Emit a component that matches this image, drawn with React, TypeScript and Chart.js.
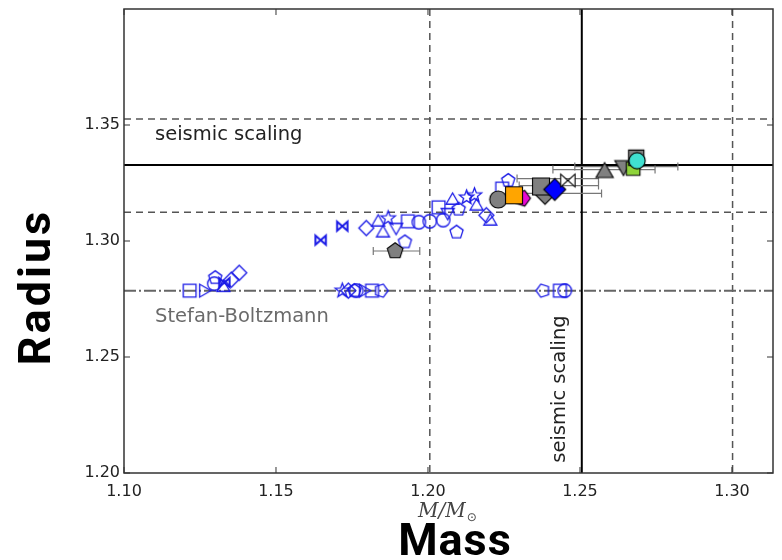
import React, { useEffect, useRef } from 'react';
import { Chart, registerables } from 'chart.js';
Chart.register(...registerables);

// axis ranges and ticks
const xTicks = [1.10, 1.15, 1.20, 1.25, 1.30];
const yTicks = [1.20, 1.25, 1.30, 1.35];
const xRange = [1.10, 1.3135];
const yRange = [1.20, 1.40];

// reference lines
const seismicMass = 1.2506;
const seismicRadius = 1.3328;
const massBounds = [1.2006, 1.3002];
const radiusBounds = [1.3124, 1.3526];
const sbRadius = 1.2786;

// blue open markers
const blueMass = [
  1.1216, 1.1261, 1.1297, 1.1300, 1.1327, 1.1330, 1.1353, 1.1379,
  1.1718, 1.1738, 1.1758, 1.1764, 1.1787, 1.1816, 1.1846,
  1.2378, 1.2434, 1.2450,
  1.1647, 1.1718, 1.1797, 1.1852, 1.1836, 1.1869, 1.1934, 1.1924, 1.1970, 1.2006, 1.2035, 1.2094,
  1.2192, 1.2205, 1.2081, 1.2153, 1.2127, 1.2101, 1.2244, 1.2264, 1.2065, 1.1895, 1.2160, 1.2050,
];
const blueRadius = [
  1.2786, 1.2786, 1.2816, 1.2842, 1.2799, 1.2821, 1.2833, 1.2863,
  1.2786, 1.2786, 1.2786, 1.2786, 1.2786, 1.2786, 1.2786,
  1.2786, 1.2786, 1.2786,
  1.3004, 1.3064, 1.3056, 1.3034, 1.3081, 1.3098, 1.3085, 1.2996, 1.3081, 1.3085, 1.3145, 1.3038,
  1.3111, 1.3085, 1.3175, 1.3197, 1.3188, 1.3137, 1.3226, 1.3261, 1.3124, 1.3060, 1.3150, 1.3090,
];
const blueShape = [
  's', '>', 'o', 'p', '^', 'b', 'D', 'D',
  '*', 'D', 'p', 'o', '>', 's', 'pr',
  'pl', 's', 'o',
  'b', 'b', 'D', '^', '^', '*', 's', 'p', 'o', 'o', 's', 'p',
  'D', '^', '^', '*', '*', 'p', 's', 'p', 'v', 'v', '^', 'o',
];

// filled markers
const fillMass = [1.1892, 1.2231, 1.2310, 1.2283, 1.2385, 1.2372, 1.2417, 1.2460, 1.2581, 1.2643, 1.2675, 1.2685, 1.2688];
const fillRadius = [1.2957, 1.3179, 1.3184, 1.3197, 1.3201, 1.3235, 1.3222, 1.3261, 1.3295, 1.3325, 1.3312, 1.3359, 1.3346];
const fillShape = ['p', 'o', 'pr', 's', 'D', 's', 'D', 'b', '^', 'v', 's', 's', 'o'];
const fillColor = ['#808080', '#808080', '#e60ad2', '#ffa500', '#808080', '#808080', '#0000ff', '#ffffff', '#808080', '#808080', '#8fd43a', '#808080', '#40e0d0'];
const fillSize = [18, 19, 18, 20, 20, 20, 22, 18, 20, 20, 16, 18, 18];

// horizontal error bars
const errRadius = [1.2957, 1.3308, 1.3321, 1.3269, 1.3239, 1.3205];
const errLo = [1.1820, 1.2411, 1.2483, 1.2293, 1.2300, 1.2310];
const errHi = [1.1973, 1.2747, 1.2822, 1.2561, 1.2561, 1.2571];

function makeMarker(shape: string, size: number, fill: string | null, stroke: string, lw: number) {
  const pad = Math.ceil(lw) + 2;
  const S = Math.ceil(size + pad * 2);
  const c = document.createElement('canvas');
  c.width = S;
  c.height = S;
  const ctx = c.getContext('2d') as CanvasRenderingContext2D;
  const cx = S / 2, cy = S / 2, r = size / 2;
  const poly = (n: number, start: number, rad: number) => {
    for (let k = 0; k < n; k++) {
      const a = ((start + (k * 360) / n) * Math.PI) / 180;
      const px = cx + rad * Math.cos(a), py = cy + rad * Math.sin(a);
      if (k === 0) ctx.moveTo(px, py); else ctx.lineTo(px, py);
    }
    ctx.closePath();
  };
  ctx.beginPath();
  switch (shape) {
    case 'o': ctx.arc(cx, cy, r * 0.9, 0, Math.PI * 2); break;
    case 's': { const h = r * 0.85; ctx.rect(cx - h, cy - h, 2 * h, 2 * h); break; }
    case 'D': poly(4, -90, r); break;
    case '^': poly(3, -90, r); break;
    case 'v': poly(3, 90, r); break;
    case '>': poly(3, 0, r); break;
    case '<': poly(3, 180, r); break;
    case 'p': poly(5, -90, r * 0.92); break;
    case 'pr': poly(5, 0, r * 0.92); break;
    case 'pl': poly(5, 180, r * 0.92); break;
    case '*': {
      for (let k = 0; k < 10; k++) {
        const a = ((-90 + k * 36) * Math.PI) / 180;
        const rr = k % 2 === 0 ? r : r * 0.42;
        const px = cx + rr * Math.cos(a), py = cy + rr * Math.sin(a);
        if (k === 0) ctx.moveTo(px, py); else ctx.lineTo(px, py);
      }
      ctx.closePath();
      break;
    }
    case 'b': {
      const w = r * 0.8, h = r * 0.7;
      ctx.moveTo(cx - w, cy - h); ctx.lineTo(cx, cy); ctx.lineTo(cx - w, cy + h); ctx.closePath();
      ctx.moveTo(cx + w, cy - h); ctx.lineTo(cx, cy); ctx.lineTo(cx + w, cy + h); ctx.closePath();
      break;
    }
  }
  if (fill) { ctx.fillStyle = fill; ctx.fill(); }
  ctx.lineWidth = lw;
  ctx.lineJoin = 'miter';
  ctx.strokeStyle = stroke;
  ctx.stroke();
  return c;
}

const decorPlugin = {
  id: 'decor',
  beforeDatasetsDraw(chart: any) {
    const { ctx, chartArea: a, scales } = chart;
    const xs = scales.x, ys = scales.y;
    ctx.save();
    ctx.beginPath();
    ctx.rect(a.left, a.top, a.right - a.left, a.bottom - a.top);
    ctx.clip();
    const hline = (v: number) => { const y = ys.getPixelForValue(v); ctx.beginPath(); ctx.moveTo(a.left, y); ctx.lineTo(a.right, y); ctx.stroke(); };
    const vline = (v: number) => { const x = xs.getPixelForValue(v); ctx.beginPath(); ctx.moveTo(x, a.top); ctx.lineTo(x, a.bottom); ctx.stroke(); };
    ctx.strokeStyle = '#555';
    ctx.lineWidth = 1.5;
    ctx.setLineDash([7, 5]);
    massBounds.forEach(vline);
    radiusBounds.forEach(hline);
    ctx.strokeStyle = '#666';
    ctx.lineWidth = 2;
    ctx.setLineDash([12, 3, 2, 3]);
    hline(sbRadius);
    ctx.setLineDash([]);
    ctx.strokeStyle = '#000';
    ctx.lineWidth = 2;
    vline(seismicMass);
    hline(seismicRadius);
    ctx.strokeStyle = '#777';
    ctx.lineWidth = 1.2;
    errRadius.forEach((rv, i) => {
      const y = ys.getPixelForValue(rv);
      const x0 = xs.getPixelForValue(errLo[i]);
      const x1 = xs.getPixelForValue(errHi[i]);
      ctx.beginPath();
      ctx.moveTo(x0, y); ctx.lineTo(x1, y);
      ctx.moveTo(x0, y - 4); ctx.lineTo(x0, y + 4);
      ctx.moveTo(x1, y - 4); ctx.lineTo(x1, y + 4);
      ctx.stroke();
    });
    ctx.restore();
  },
  afterDraw(chart: any) {
    const { ctx, chartArea: a, scales } = chart;
    const xs = scales.x, ys = scales.y;
    ctx.save();
    ctx.strokeStyle = '#333';
    ctx.lineWidth = 1.5;
    ctx.strokeRect(a.left, a.top, a.right - a.left, a.bottom - a.top);
    ctx.lineWidth = 1;
    ctx.beginPath();
    xTicks.forEach((v) => {
      const x = xs.getPixelForValue(v);
      ctx.moveTo(x, a.bottom); ctx.lineTo(x, a.bottom - 6);
      ctx.moveTo(x, a.top); ctx.lineTo(x, a.top + 6);
    });
    yTicks.forEach((v) => {
      const y = ys.getPixelForValue(v);
      ctx.moveTo(a.left, y); ctx.lineTo(a.left + 6, y);
      ctx.moveTo(a.right, y); ctx.lineTo(a.right - 6, y);
    });
    ctx.stroke();

    ctx.fillStyle = '#222';
    ctx.font = '19.5px "DejaVu Sans"';
    ctx.textAlign = 'left';
    ctx.textBaseline = 'alphabetic';
    ctx.fillText('seismic scaling', 155, 140);
    ctx.fillStyle = '#6a6a6a';
    ctx.fillText('Stefan-Boltzmann', 155, 322);
    ctx.save();
    ctx.fillStyle = '#222';
    ctx.translate(565, 389);
    ctx.rotate(-Math.PI / 2);
    ctx.textAlign = 'center';
    ctx.fillText('seismic scaling', 0, 0);
    ctx.restore();

    ctx.fillStyle = '#444';
    ctx.font = 'italic 20px "DejaVu Serif"';
    ctx.textAlign = 'left';
    ctx.fillText('M/M', 418, 517);
    const w = ctx.measureText('M/M').width;
    ctx.font = '12px "DejaVu Sans"';
    ctx.fillText('\u2299', 418 + w + 1, 521);

    ctx.fillStyle = '#000';
    ctx.font = 'bold 45px Roboto';
    (ctx as any).letterSpacing = '1px';
    ctx.textAlign = 'center';
    ctx.fillText('Mass', 455, 555);
    ctx.save();
    (ctx as any).letterSpacing = '3px';
    ctx.translate(50, 287);
    ctx.rotate(-Math.PI / 2);
    ctx.fillText('Radius', 0, 0);
    ctx.restore();
    ctx.restore();
  },
};

const noPad = (s: any) => { s.paddingTop = 0; s.paddingBottom = 0; s.paddingLeft = 0; s.paddingRight = 0; };

export default function App() {
  const ref = useRef<HTMLCanvasElement>(null);
  useEffect(() => {
    if (!ref.current) return;
    const blueMarkers = blueShape.map((s) => makeMarker(s, s === 'b' ? 13 : 15, null, '#1a1ae6', s === 'b' ? 2 : 1.3));
    const fillMarkers = fillShape.map((s, i) => makeMarker(s, fillSize[i], fillColor[i], '#000', 1.1));
    const chart = new Chart(ref.current, {
      type: 'scatter',
      data: {
        datasets: [
          {
            label: 'filled',
            data: fillMass.map((x, i) => ({ x, y: fillRadius[i] })),
            pointStyle: fillMarkers as any,
            pointRadius: 8,
            order: 0,
          },
          {
            label: 'open',
            data: blueMass.map((x, i) => ({ x, y: blueRadius[i] })),
            pointStyle: blueMarkers as any,
            pointRadius: 7,
            order: 1,
          },
        ],
      },
      options: {
        animation: false,
        responsive: false,
        devicePixelRatio: 1,
        layout: { padding: { top: 7, right: 4, left: 0, bottom: 0 } },
        plugins: { legend: { display: false }, tooltip: { enabled: false } },
        scales: {
          x: {
            type: 'linear',
            min: xRange[0],
            max: xRange[1],
            grid: { display: false, drawTicks: false },
            border: { display: false },
            ticks: {
              padding: 9,
              color: '#222',
              font: { family: 'DejaVu Sans', size: 16 },
              callback: (v: any) => Number(v).toFixed(2),
            },
            afterBuildTicks: (s: any) => { s.ticks = xTicks.map((v) => ({ value: v })); },
            afterFit: (s: any) => { s.height = 87; noPad(s); },
          },
          y: {
            type: 'linear',
            min: yRange[0],
            max: yRange[1],
            grid: { display: false, drawTicks: false },
            border: { display: false },
            ticks: {
              padding: 4,
              color: '#222',
              font: { family: 'DejaVu Sans', size: 16 },
              callback: (v: any) => Number(v).toFixed(2),
            },
            afterBuildTicks: (s: any) => { s.ticks = yTicks.map((v) => ({ value: v })); },
            afterFit: (s: any) => { s.width = 124; noPad(s); },
          },
        },
      },
      plugins: [decorPlugin],
    });
    return () => chart.destroy();
  }, []);
  return (
    <div style={{ position: 'absolute', left: 0, top: 0, width: 782, height: 560, background: '#fff' }}>
      <canvas ref={ref} width={782} height={560} />
    </div>
  );
}
